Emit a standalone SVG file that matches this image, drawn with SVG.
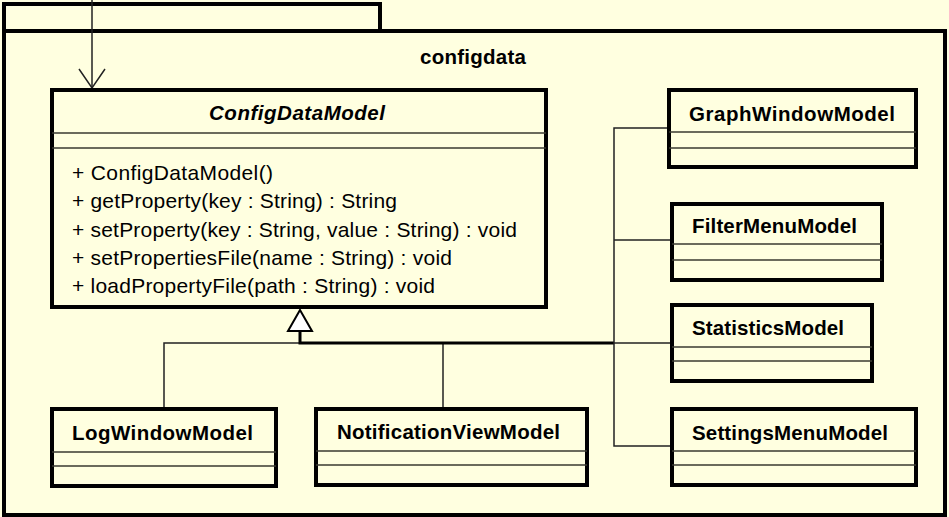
<svg xmlns="http://www.w3.org/2000/svg" width="949" height="517" viewBox="0 0 949 517">
<style>
.bg{fill:#ffffe0}
.pkg{fill:#ffffe0;stroke:#000;stroke-width:4}
.box{fill:#ffffe0;stroke:#000;stroke-width:4}
.div{stroke:#3a3a30;stroke-width:1.4;fill:none}
.name{font-family:"Liberation Sans",Arial,sans-serif;font-weight:bold;font-size:20.5px;fill:#000}
.op{font-family:"Liberation Sans",Arial,sans-serif;font-size:21px;fill:#000}
.conn{stroke:#222;stroke-width:1.5;fill:none}
.thick{stroke:#000;stroke-width:3;fill:none}
</style>
<rect class="bg" x="0" y="0" width="949" height="517"/>
<g id="package-configdata">
<rect class="pkg" x="4" y="4" width="376" height="27"/>
<rect class="pkg" x="4" y="31" width="941" height="484"/>
<text class="name" x="420" y="64" textLength="106">configdata</text>
</g>
<g id="connectors">
<line class="conn" x1="92" y1="0" x2="92" y2="88"/>
<polyline class="conn" points="79,69 92,88 105,69"/>
<polyline class="conn" points="164,409 164,343 300,343"/>
<line class="conn" x1="443" y1="343" x2="443" y2="409"/>
<polyline class="thick" points="300,331 300,343 614,343"/>
<line class="conn" x1="614" y1="343" x2="672" y2="343"/>
<polyline class="conn" points="669,128 614,128 614,446 672,446"/>
<line class="conn" x1="614" y1="240" x2="672" y2="240"/>
<polygon points="300,310 288,331 312,331" fill="#fff" stroke="#000" stroke-width="2"/>
</g>
<g id="ConfigDataModel">
<rect class="box" x="52" y="90" width="494" height="217"/>
<line class="div" x1="52" y1="133" x2="546" y2="133"/>
<line class="div" x1="52" y1="148" x2="546" y2="148"/>
<text class="name" x="209" y="120" font-style="italic" textLength="176">ConfigDataModel</text>
<text class="op" x="72" y="180" textLength="201">+ ConfigDataModel()</text>
<text class="op" x="72" y="208" textLength="325">+ getProperty(key : String) : String</text>
<text class="op" x="72" y="237" textLength="445">+ setProperty(key : String, value : String) : void</text>
<text class="op" x="72" y="265" textLength="380">+ setPropertiesFile(name : String) : void</text>
<text class="op" x="72" y="293" textLength="363">+ loadPropertyFile(path : String) : void</text>
</g>
<g id="GraphWindowModel">
<rect class="box" x="669" y="90" width="247" height="77"/>
<line class="div" x1="669" y1="132" x2="916" y2="132"/>
<line class="div" x1="669" y1="148" x2="916" y2="148"/>
<text class="name" x="689" y="121" textLength="206">GraphWindowModel</text>
</g>
<g id="FilterMenuModel">
<rect class="box" x="672" y="204" width="210" height="76"/>
<line class="div" x1="672" y1="244" x2="882" y2="244"/>
<line class="div" x1="672" y1="260" x2="882" y2="260"/>
<text class="name" x="692" y="233" textLength="165">FilterMenuModel</text>
</g>
<g id="StatisticsModel">
<rect class="box" x="672" y="305" width="200" height="76"/>
<line class="div" x1="672" y1="347" x2="872" y2="347"/>
<line class="div" x1="672" y1="361" x2="872" y2="361"/>
<text class="name" x="692" y="335" textLength="152">StatisticsModel</text>
</g>
<g id="SettingsMenuModel">
<rect class="box" x="672" y="409" width="244" height="76"/>
<line class="div" x1="672" y1="451" x2="916" y2="451"/>
<line class="div" x1="672" y1="465" x2="916" y2="465"/>
<text class="name" x="692" y="440" textLength="196">SettingsMenuModel</text>
</g>
<g id="LogWindowModel">
<rect class="box" x="52" y="409" width="224" height="77"/>
<line class="div" x1="52" y1="452" x2="276" y2="452"/>
<line class="div" x1="52" y1="466" x2="276" y2="466"/>
<text class="name" x="72" y="440" textLength="181">LogWindowModel</text>
</g>
<g id="NotificationViewModel">
<rect class="box" x="316" y="409" width="271" height="76"/>
<line class="div" x1="316" y1="451" x2="587" y2="451"/>
<line class="div" x1="316" y1="465" x2="587" y2="465"/>
<text class="name" x="337" y="439" textLength="223">NotificationViewModel</text>
</g>
</svg>
